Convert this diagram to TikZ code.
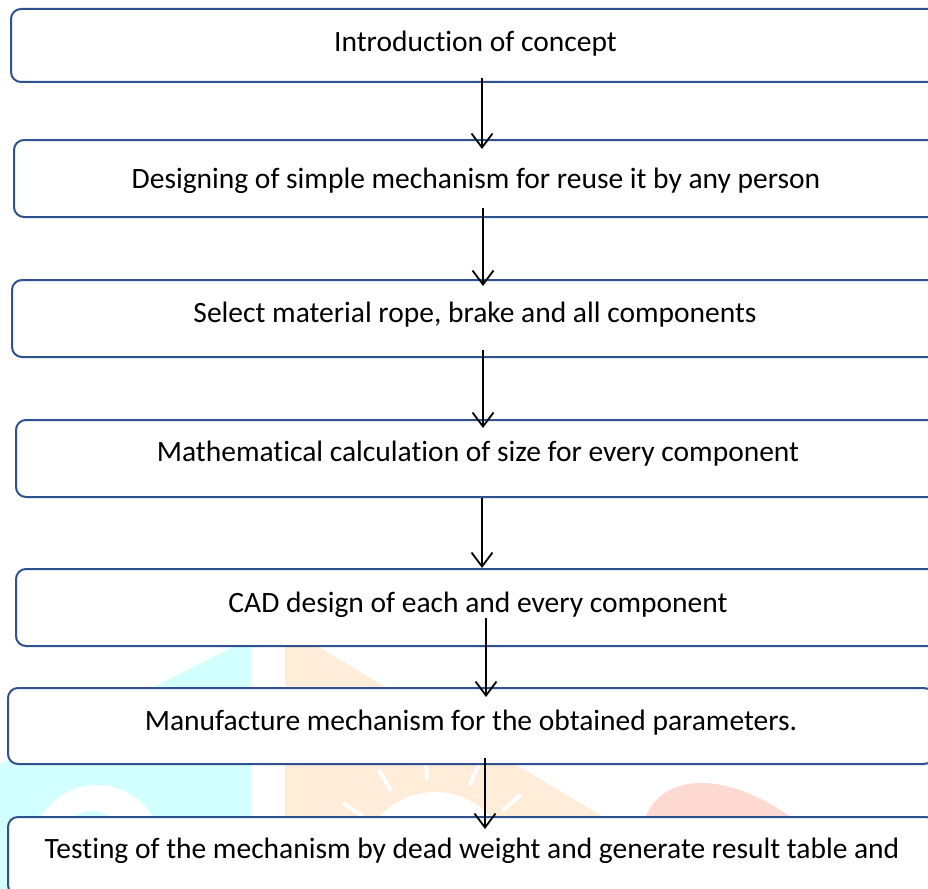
\documentclass[tikz,border=0pt]{standalone}
\usepackage{fontspec}
\setmainfont[Ligatures=NoCommon]{Carlito}
\usetikzlibrary{arrows.meta}
\definecolor{boxblue}{RGB}{47,82,143}
\definecolor{wmcyan}{RGB}{210,255,255}
\definecolor{wmorange}{RGB}{255,236,217}
\definecolor{wmred}{RGB}{255,218,210}
\tikzset{
  stepbox/.style={draw=boxblue, line width=2pt, fill=white, rounded corners=10pt,
    inner sep=0pt, align=center, text height=22pt, font=\fontsize{29.5}{34}\selectfont},
  arr/.style={line width=1.8pt, -{Straight Barb[length=14pt,width=21pt,line width=1.8pt]}},
  ray/.style={white, line width=4pt}
}
\begin{document}
\begin{tikzpicture}[x=1pt,y=-1pt]
\useasboundingbox (0,0) rectangle (928,888);
\clip (0,0) rectangle (928,888);
% watermark
\fill[wmcyan] (251,638) -- (251,900) -- (0,900) -- (0,764) -- cycle;
\fill[white] (97,850) circle[radius=65];
\fill[wmcyan] (92,842) circle[radius=31];
\fill[wmorange] (285,627) -- (600,815) -- (720,900) -- (285,900) -- cycle;
\fill[white] (435,867) circle[radius=75];
\foreach \a in {145,120,95,67,40}
  \draw[ray] (435,867) ++(-\a:88) -- ++(-\a:24);
\fill[wmred] (643,825) .. controls (655,775) and (720,765) .. (795,820) -- cycle;
% boxes
\node[stepbox, text depth=9pt, minimum width=929pt, minimum height=73pt] (n1) at (475.5,45.5) {Introduction of concept};
\node[stepbox, text depth=3pt, minimum width=924pt, minimum height=77pt] (n2) at (476,178.5) {Designing of simple mechanism for reuse it by any person};
\node[stepbox, text depth=14pt, minimum width=926pt, minimum height=77pt] (n3) at (475,318.5) {Select material rope, brake and all components};
\node[stepbox, text depth=16pt, minimum width=924pt, minimum height=77pt] (n4) at (478,458.5) {Mathematical calculation of size for every component};
\node[stepbox, text depth=13pt, minimum width=924pt, minimum height=77pt] (n5) at (478,607.5) {CAD design of each and every component};
\node[stepbox, text depth=14pt, minimum width=926pt, minimum height=76pt] (n6) at (471,726) {Manufacture mechanism for the obtained parameters.};
\node[stepbox, text depth=17pt, minimum width=928pt, minimum height=78pt] (n7) at (472,856) {Testing of the mechanism by dead weight and generate result table and};
% arrows
\draw[arr] ([xshift=6.5pt,yshift=5pt]n1.south) -- ([xshift=6pt,yshift=-10pt]n2.north);
\draw[arr] ([xshift=7pt,yshift=10pt]n2.south) -- ([xshift=8pt,yshift=-7pt]n3.north);
\draw[arr] ([xshift=8pt,yshift=8pt]n3.south) -- ([xshift=5pt,yshift=-9pt]n4.north);
\draw[arr] ([xshift=4pt,yshift=0pt]n4.south) -- ([xshift=4pt,yshift=0pt]n5.north);
\draw[arr] ([xshift=8pt,yshift=29pt]n5.south) -- ([xshift=15pt,yshift=-10pt]n6.north);
\draw[arr] ([xshift=14pt,yshift=7pt]n6.south) -- ([xshift=13pt,yshift=-13pt]n7.north);
\end{tikzpicture}
\end{document}
